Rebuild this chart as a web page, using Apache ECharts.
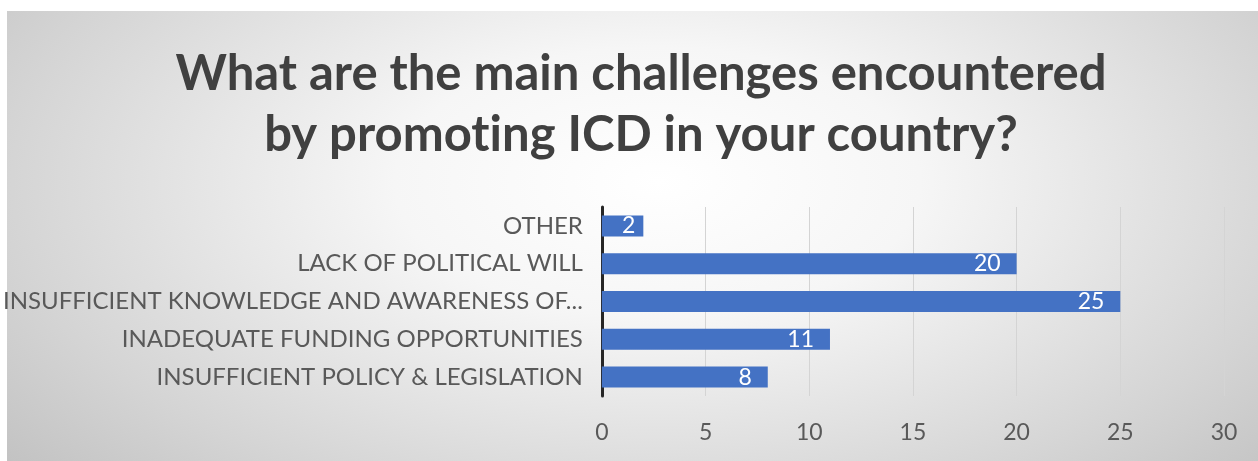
<!DOCTYPE html>
<html>
<head>
<meta charset="utf-8">
<script src="https://cdn.jsdelivr.net/npm/echarts@6/dist/echarts.min.js"></script>
<style>
  html, body { margin: 0; padding: 0; background: #ffffff; }
  #bg { position: absolute; left: 7px; top: 11px; width: 1251px; height: 450px;
        background: radial-gradient(ellipse 70% 100% at 52% 38%, #ffffff 0%, #f6f6f6 30%, #d4d4d4 75%, #c0c0c0 100%); }
  #chart { position: absolute; left: 0; top: 0; width: 1258px; height: 461px; }
</style>
</head>
<body>
<div id="bg"></div>
<div id="chart"></div>
<script>
const titleLines = ['What are the main challenges encountered', 'by promot\u200Cing ICD in your country?'];
const categories = [
  'OTHER',
  'LACK OF POLITICAL WILL',
  'INSUFFICIENT KNOWLEDGE AND AWARENESS OF...',
  'INADEQUATE FUNDING OPPORTUNITIES',
  'INSUFFICIENT POLICY & LEGISLATION'
];
const values = [2, 20, 25, 11, 8];
const xTicks = { min: 0, max: 30, interval: 5 };

const chart = echarts.init(document.getElementById('chart'), null, { renderer: 'canvas' });
chart.setOption({
  backgroundColor: 'transparent',
  animation: false,
  title: {
    text: titleLines.join('\n'),
    left: 636,
    textAlign: 'center',
    top: 39,
    textStyle: {
      fontFamily: 'Lato',
      fontWeight: 'bold',
      fontSize: 49,
      lineHeight: 61,
      color: '#404040'
    }
  },
  grid: { left: 600, right: 34, top: 207, bottom: 65, containLabel: false },
  xAxis: {
    type: 'value',
    min: xTicks.min, max: xTicks.max, interval: xTicks.interval,
    axisLine: { show: false },
    axisTick: { show: false },
    splitLine: { show: true, lineStyle: { color: '#d4d4d4', width: 1 } },
    axisLabel: { color: '#595959', fontFamily: 'Lato', fontSize: 23, margin: 25 }
  },
  yAxis: {
    type: 'category',
    inverse: true,
    data: categories,
    axisLine: { show: true, lineStyle: { color: '#262626', width: 3 } },
    axisTick: { show: false },
    axisLabel: { color: '#595959', fontFamily: 'Lato', fontSize: 24, margin: 19 }
  },
  series: [{
    type: 'bar',
    data: values.map(v => ({ value: v, label: { distance: v < 5 ? 8 : 16 } })),
    barWidth: 21,
    itemStyle: { color: '#4472c4' },
    label: {
      show: true,
      position: 'insideRight',
      color: '#ffffff',
      fontFamily: 'Lato',
      fontSize: 23
    }
  }]
});
</script>
</body>
</html>
